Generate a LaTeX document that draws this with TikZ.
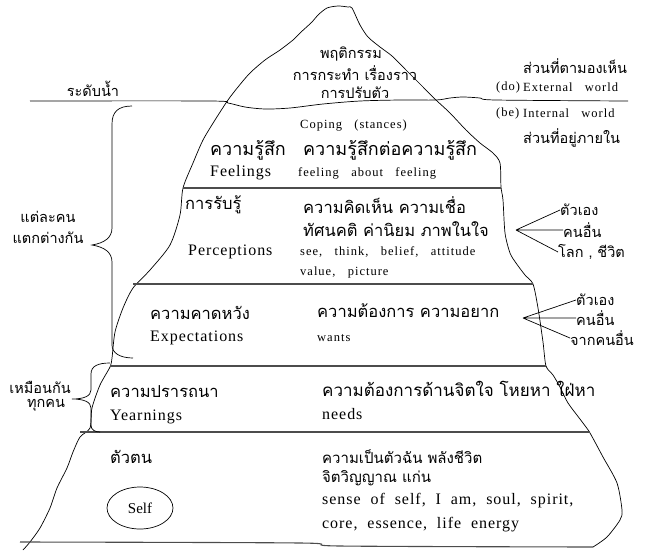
\documentclass[tikz,border=0pt]{standalone}
\usepackage{fontspec}
\setmainfont{Liberation Serif}
\newfontfamily\thaifont[Script=Thai]{Loma}
\newfontfamily\bigserif[LetterSpace=6,WordSpace=2]{Liberation Serif}
\newfontfamily\smallserif[LetterSpace=8,WordSpace=3]{Liberation Serif}
\usetikzlibrary{positioning,shapes.geometric}

\tikzset{
  txt/.style={inner sep=0pt,anchor=west},
  thb/.style={txt,font=\thaifont\fontsize{16.5}{16.5}\selectfont},
  thm/.style={txt,font=\thaifont\fontsize{14.5}{14.5}\selectfont},
  enb/.style={txt,font=\bigserif\fontsize{16}{16}\selectfont},
  ens/.style={txt,font=\smallserif\fontsize{12.5}{12.5}\selectfont},
  layer/.style={line width=1.1pt,black!70},
  berg/.style={line width=0.7pt}
}

\begin{document}
\begin{tikzpicture}[x=1pt,y=-1pt]
\useasboundingbox (0,0) rectangle (646,550);

% iceberg
\draw[berg] plot[smooth,tension=0.45] coordinates {(23,550) (30,542) (40,528) (50,508) (57,488) (67,468) (73,452) (80,437) (90,428) (92,408) (100,385) (110,367) (112,358) (115,332) (123,308) (133,288) (150,270) (170,245) (180,215) (183,188) (193,163) (203,140) (215,120) (228,100) (238,87) (250,73) (265,60) (280,50) (293,40) (300,33) (312,22) (318,15) (327,8) (338,6) (348,7) (352,8) (360,25) (368,37) (380,47) (392,56) (406,70) (423,87) (436,100) (450,113) (466,130) (480,143) (493,153) (500,163) (501,187) (503,200) (505,233) (510,253) (516,263) (525,275) (533,284) (538,308) (543,342) (546,366) (553,375) (560,387) (568,403) (583,423) (590,433) (603,457) (617,483) (622,510) (620,520) (607,537) (593,547)};

% water
\draw[berg] plot[smooth,tension=0.5] coordinates {(30,101) (210,101) (228,103) (245,107) (265,109) (290,108) (323,104) (360,101) (400,100) (436,100) (450,98) (463,97) (480,98) (496,100) (628,101)};

% layers
\draw[layer] (183,188) -- (501,188);
\draw[layer] (133,284) -- (533,284);
\draw[layer] (110,366) -- (546,366);
\draw[layer] (80,432) -- (590,432);
\draw[layer] plot[smooth] coordinates {(20,542) (300,543) (340,546) (593,547)};

% above water
\node[thm,anchor=center] (b1) at (351,54) {พฤติกรรม};
\node[thm,anchor=center] (b2) at (355,73) {การกระทำ เรื่องราว};
\node[thm,anchor=center] (b3) at (355,93) {การปรับตัว};
\node[thm] (seen) at (523,66) {ส่วนที่ตามองเห็น};
\node[ens] (do) at (496,87) {(do)};
\node[ens] (ext) at (523,87) {External world};
\node[ens] (be) at (496,113) {(be)};
\node[ens] (int) at (523,113) {Internal world};
\node[thm] (inside) at (523,138) {ส่วนที่อยู่ภายใน};
\node[thm,anchor=center] (water) at (93,89) {ระดับน้ำ};

% feelings
\node[ens] (cop) at (300,126) {Coping (stances)};
\node[thb,font=\thaifont\fontsize{18}{18}\selectfont] (f1) at (210,150) {ความรู้สึก};
\node[thb,font=\thaifont\fontsize{18}{18}\selectfont] (f2) at (303,150) {ความรู้สึกต่อความรู้สึก};
\node[enb] (f3) at (210,173) {Feelings};
\node[ens] (f4) at (298,173) {feeling about feeling};

% perceptions
\node[thb] (p1) at (185,205) {การรับรู้};
\node[thb] (p2) at (303,205) {ความคิดเห็น ความเชื่อ};
\node[thb] (p3) at (303,229) {ทัศนคติ ค่านิยม ภาพในใจ};
\node[enb] (p4) at (188,252) {Perceptions};
\node[ens] (p5) at (300,252) {see, think, belief, attitude};
\node[ens] (p6) at (300,272) {value, picture};
\coordinate (pfan) at (516,230);
\node[thm] (pa) at (560,210) {ตัวเอง};
\node[thm] (pb) at (563,230) {คนอื่น};
\node[thm] (pc) at (558,252) {โลก , ชีวิต};
\draw[berg] (pfan) -- (pa.west) (pfan) -- (pb.west) (pfan) -- (pc.west);

% expectations
\node[thb] (e1) at (150,313) {ความคาดหวัง};
\node[thb] (e2) at (317,311) {ความต้องการ  ความอยาก};
\node[enb] (e3) at (150,338) {Expectations};
\node[ens] (e4) at (317,338) {wants};
\coordinate (efan) at (523,318);
\node[thm] (ea) at (576,300) {ตัวเอง};
\node[thm] (eb) at (576,318) {คนอื่น};
\node[thm] (ec) at (570,338) {จากคนอื่น};
\draw[berg] (efan) -- (ea.west) (efan) -- (eb.west) (efan) -- (ec.west);

% yearnings
\node[thb] (y1) at (110,392) {ความปรารถนา};
\node[thb,font=\thaifont\fontsize{17}{17}\selectfont] (y2) at (322,389) {ความต้องการด้านจิตใจ โหยหา ใฝ่หา};
\node[enb] (y3) at (110,417) {Yearnings};
\node[enb] (y4) at (322,414) {needs};

% self
\node[thb] (s1) at (110,457) {ตัวตน};
\node[draw,ellipse,berg,minimum width=66pt,minimum height=42pt,font=\fontsize{15}{15}\selectfont] (self) at (140,508) {Self};
\node[thb,font=\thaifont\fontsize{15}{15}\selectfont] (s2) at (322,457) {ความเป็นตัวฉัน พลังชีวิต};
\node[thb,font=\thaifont\fontsize{15}{15}\selectfont] (s3) at (322,478) {จิตวิญญาณ แก่น};
\node[enb] (s4) at (322,501) {sense of self, I am, soul, spirit,};
\node[enb] (s5) at (322,525) {core, essence, life energy};

% braces
\node[thm,anchor=center] (each1) at (48,217) {แต่ละคน};
\node[thm,anchor=center] (each2) at (48,238) {แตกต่างกัน};
\draw[berg] (132,106) .. controls (118,106) and (112,112) .. (112,124) -- (112,228) .. controls (112,238) and (104,243) .. (92,245) .. controls (104,247) and (112,252) .. (112,262) -- (112,345) .. controls (112,353) and (120,358) .. (133,358);
\node[thm,anchor=center] (same1) at (40,387) {เหมือนกัน};
\node[thm,anchor=center] (same2) at (46,405) {ทุกคน};
\draw[berg] (110,363) .. controls (98,363) and (91,366) .. (91,374) -- (91,390) .. controls (91,396) and (84,399) .. (72,399) .. controls (84,399) and (91,402) .. (91,408) -- (91,425) .. controls (91,430) and (95,432) .. (100,432);

\end{tikzpicture}
\end{document}
